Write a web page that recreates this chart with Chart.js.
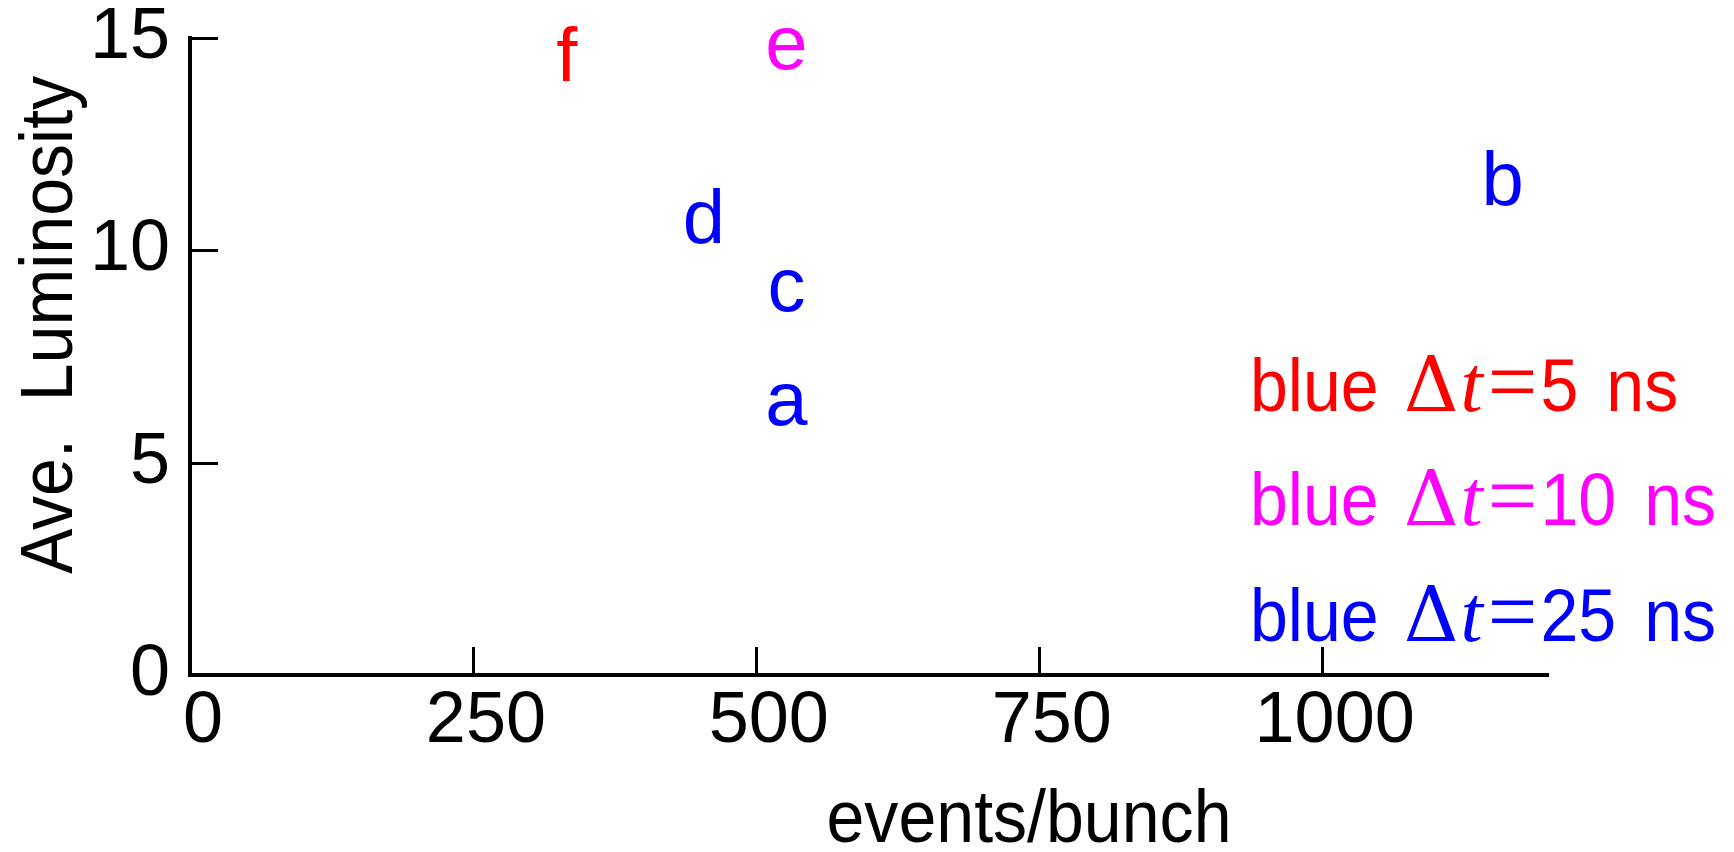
<!DOCTYPE html>
<html>
<head>
<meta charset="utf-8">
<title>Ave. Luminosity vs events/bunch</title>
<script src="https://cdn.jsdelivr.net/npm/chart.js@4.4.1/dist/chart.umd.min.js"></script>
<style>
  html, body { margin: 0; padding: 0; background: #ffffff; }
  #wrap { position: relative; width: 1734px; height: 852px; }
</style>
</head>
<body>
<div id="wrap"><canvas id="chart"></canvas></div>
<script>
// ---- data -------------------------------------------------------------
const pointNames      = ['a', 'b', 'c', 'd', 'e', 'f'];
const eventsPerBunch  = [527, 1160, 527, 454, 527, 333];
const aveLuminosity   = [6.3, 11.5, 9.0, 10.6, 14.7, 14.4];
const bunchSpacingNs  = [25, 25, 25, 25, 10, 5];
const spacingGroups   = [5, 10, 25];

const xTickValues = [0, 250, 500, 750, 1000];
const xTickLabels = ['0', '250', '500', '750', '1000'];
const yTickValues = [0, 5, 10, 15];
const yTickLabels = ['0', '5', '10', '15'];

const xAxisTitle = 'events/bunch';
const yAxisTitle = 'Ave.  Luminosity';

// ---- styles -----------------------------------------------------------
const SANS   = "'Liberation Sans', Arial, sans-serif";
const SERIF  = "'Liberation Serif', 'Times New Roman', serif";
const DSERIF = "'DejaVu Serif', 'Liberation Serif', serif";
const SQUEEZE = 0.92;               // horizontal squeeze for titles and key text
const groupColor = { 5: '#ff0000', 10: '#ff00ff', 25: '#0000ff' };

// one dataset per bunch spacing
const datasets = spacingGroups.map(ns => ({
  label: 'blue \u0394t=' + ns + ' ns',
  data: pointNames
    .map((name, i) => ({ x: eventsPerBunch[i], y: aveLuminosity[i], name: name, ns: bunchSpacingNs[i] }))
    .filter(p => p.ns === ns),
  pointRadius: 0,
  pointHoverRadius: 0,
  showLine: false,
  color: groupColor[ns]
}));

// letters drawn at each point position
const letterMarks = {
  id: 'letterMarks',
  afterDatasetsDraw(chart) {
    const ctx = chart.ctx;
    ctx.save();
    ctx.font = '76px ' + SANS;
    ctx.textAlign = 'center';
    ctx.textBaseline = 'alphabetic';
    chart.data.datasets.forEach((ds, di) => {
      const meta = chart.getDatasetMeta(di);
      ctx.fillStyle = ds.color;
      meta.data.forEach((el, i) => {
        ctx.fillText(ds.data[i].name, el.x, el.y + 18);
      });
    });
    ctx.restore();
  }
};

// inward tick marks on both axes
const innerTicks = {
  id: 'innerTicks',
  afterDraw(chart) {
    const { ctx, chartArea, scales } = chart;
    ctx.save();
    ctx.strokeStyle = '#000000';
    ctx.lineWidth = 3;
    ctx.beginPath();
    xTickValues.forEach(v => {
      if (v === scales.x.min) return;
      const px = Math.round(scales.x.getPixelForValue(v)) + 0.5;
      ctx.moveTo(px, chartArea.bottom);
      ctx.lineTo(px, chartArea.bottom - 28);
    });
    yTickValues.forEach(v => {
      if (v === scales.y.min) return;
      const py = Math.round(scales.y.getPixelForValue(v)) + 0.5;
      ctx.moveTo(chartArea.left, py);
      ctx.lineTo(chartArea.left + 28, py);
    });
    ctx.stroke();
    ctx.restore();
  }
};

// squeezed single-line text
function squeezedText(ctx, text, x, y, align) {
  const w = ctx.measureText(text).width * SQUEEZE;
  let left = x;
  if (align === 'center') left = x - w / 2;
  else if (align === 'right') left = x - w;
  ctx.save();
  ctx.textAlign = 'left';
  ctx.translate(left, y);
  ctx.scale(SQUEEZE, 1);
  ctx.fillText(text, 0, 0);
  ctx.restore();
  return w;
}

// axis titles
const axisTitles = {
  id: 'axisTitles',
  afterDraw(chart) {
    const { ctx, chartArea } = chart;
    ctx.save();
    ctx.fillStyle = '#000000';
    ctx.font = '74px ' + SANS;
    ctx.textBaseline = 'alphabetic';
    squeezedText(ctx, xAxisTitle, chartArea.left + 839, chartArea.bottom + 167, 'center');

    ctx.translate(chartArea.left - 118, chartArea.top + 287);
    ctx.rotate(-Math.PI / 2);
    squeezedText(ctx, yAxisTitle, 0, 0, 'center');
    ctx.restore();
  }
};

// key: one coloured line of text per bunch spacing
const spacingKey = {
  id: 'spacingKey',
  afterDraw(chart) {
    const { ctx, chartArea } = chart;
    const x0 = chartArea.right - 298;
    const baselines = [chartArea.bottom - 264, chartArea.bottom - 150, chartArea.bottom - 34];
    ctx.save();
    ctx.textBaseline = 'alphabetic';
    spacingGroups.forEach((ns, i) => {
      const y = baselines[i];
      ctx.fillStyle = groupColor[ns];
      let x = x0;
      ctx.font = '74px ' + SANS;
      x += squeezedText(ctx, 'blue', x, y, 'left') + 25;
      ctx.font = '76px ' + DSERIF;
      ctx.textAlign = 'left';
      ctx.fillText('\u0394', x, y);
      x += ctx.measureText('\u0394').width + 2;
      ctx.font = 'italic 80px ' + SERIF;
      ctx.fillText('t', x, y);
      x += ctx.measureText('t').width + 5;
      ctx.font = '88px ' + SERIF;
      ctx.fillText('=', x, y);
      x += ctx.measureText('=').width + 3;
      ctx.font = '74px ' + SANS;
      x += squeezedText(ctx, String(ns), x, y, 'left') + 28;
      squeezedText(ctx, 'ns', x, y, 'left');
    });
    ctx.restore();
  }
};

const tickFont = { family: SANS, size: 72, lineHeight: 1 };

new Chart(document.getElementById('chart'), {
  type: 'scatter',
  data: { datasets: datasets },
  options: {
    responsive: true,
    maintainAspectRatio: false,
    devicePixelRatio: 1,
    animation: false,
    events: [],
    layout: { padding: { left: 0, top: 38, right: 186, bottom: 0 } },
    plugins: {
      legend: { display: false },
      tooltip: { enabled: false },
      title: { display: false }
    },
    scales: {
      x: {
        type: 'linear',
        min: 0,
        max: 1200,
        afterBuildTicks: s => { s.ticks = xTickValues.map(v => ({ value: v })); },
        afterFit: s => { s.height = 177; s.paddingLeft = 0; s.paddingRight = 0; },
        ticks: {
          callback: v => xTickLabels[xTickValues.indexOf(v)],
          font: tickFont,
          color: '#000000',
          padding: 11,
          labelOffset: 13,
          maxRotation: 0,
          autoSkip: false
        },
        grid: { display: false, drawTicks: false },
        border: { display: true, color: '#000000', width: 4 }
      },
      y: {
        type: 'linear',
        min: 0,
        max: 15,
        afterBuildTicks: s => { s.ticks = yTickValues.map(v => ({ value: v })); },
        afterFit: s => { s.width = 190; s.paddingTop = 0; s.paddingBottom = 0; },
        ticks: {
          callback: v => yTickLabels[yTickValues.indexOf(v)],
          font: tickFont,
          color: '#000000',
          padding: 20,
          autoSkip: false
        },
        grid: { display: false, drawTicks: false },
        border: { display: true, color: '#000000', width: 4 }
      }
    }
  },
  plugins: [letterMarks, innerTicks, axisTitles, spacingKey]
});
</script>
</body>
</html>
